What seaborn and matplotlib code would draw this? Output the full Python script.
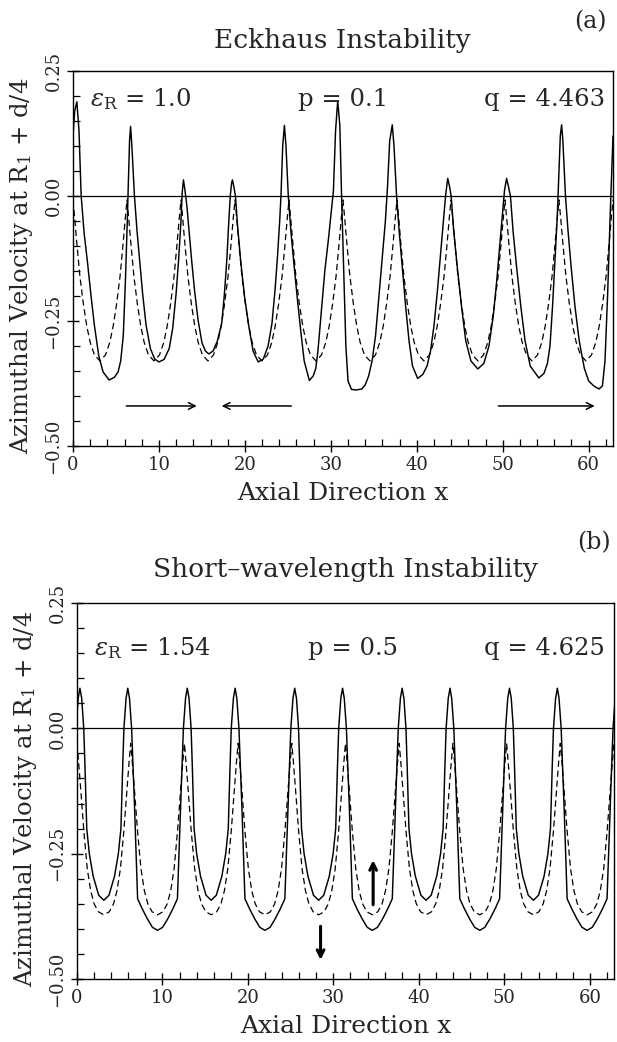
import numpy as np
import pandas as pd
import matplotlib
matplotlib.use("Agg")
import matplotlib.pyplot as plt
import seaborn as sns
from matplotlib.ticker import MultipleLocator, FixedLocator

# ---------------- data ----------------
X_MAX = 62.83

# unperturbed (dashed) solution: one period profile, placed at each peak
dash_peaks = [0.0, 6.283, 12.566, 18.850, 25.133, 31.416, 37.699, 43.982, 50.265, 56.549]
dash_dx = [0.0, 0.2, 0.45, 0.8, 1.2, 1.6, 2.0, 2.5, 3.142, 3.78, 4.28, 4.68, 5.08, 5.48, 5.83, 6.08, 6.283]
dash_a_y = [-0.008, -0.045, -0.095, -0.16, -0.215, -0.26, -0.293, -0.318, -0.330,
            -0.318, -0.293, -0.26, -0.215, -0.16, -0.095, -0.045, -0.008]
dash_b_y = [-0.030, -0.070, -0.125, -0.205, -0.280, -0.324, -0.350, -0.366, -0.372,
            -0.366, -0.350, -0.324, -0.280, -0.205, -0.125, -0.070, -0.030]

# panel (a) perturbed (solid) solution
sa_x = [0.0, 0.2, 0.45, 0.7, 0.95, 1.3, 1.7, 2.1, 2.5, 3.0, 3.5, 4.2, 4.8, 5.25, 5.55, 5.85,
        6.1, 6.3, 6.45, 6.58, 6.70, 6.85, 7.15, 7.45, 7.75, 8.1, 8.5, 9.0, 9.5, 10.0, 10.6,
        11.2, 11.6, 12.0, 12.3, 12.55, 12.7, 12.85, 13.0, 13.25, 13.5, 13.8, 14.15, 14.55,
        15.0, 15.4, 15.8, 16.3, 16.8, 17.3, 17.6, 17.9, 18.1, 18.3, 18.45, 18.55, 18.7, 18.9,
        19.15, 19.5, 19.95, 20.45, 20.95, 21.55, 22.15, 22.7, 23.15, 23.5, 23.8, 24.05, 24.2,
        24.4, 24.6, 24.78, 25.05, 25.35, 25.7, 26.1, 26.5, 26.9, 27.5, 27.95, 28.25, 28.5,
        28.9, 29.3, 29.7, 30.0, 30.3, 30.55, 30.8, 31.05, 31.25, 31.5, 31.75, 32.0, 32.4,
        33.0, 33.6, 34.0, 34.4, 34.8, 35.2, 35.6, 36.0, 36.35, 36.6, 36.85, 37.15, 37.35,
        37.65, 37.95, 38.3, 38.7, 39.1, 39.5, 40.1, 40.7, 41.2, 41.6, 42.0, 42.4, 42.8, 43.1,
        43.35, 43.6, 43.8, 44.0, 44.3, 44.7, 45.2, 45.7, 46.3, 47.1, 47.8, 48.4, 48.9, 49.3,
        49.7, 50.0, 50.2, 50.45, 50.65, 50.9, 51.2, 51.6, 52.1, 52.6, 53.2, 54.2, 54.8, 55.2,
        55.5, 55.8, 56.1, 56.35, 56.55, 56.7, 56.85, 57.0, 57.3, 57.6, 57.95, 58.4, 58.9,
        59.5, 60.0, 60.6, 61.2, 61.6, 61.9, 62.2, 62.5, 62.83]
sa_y = [0.120, 0.170, 0.188, 0.130, 0.0, -0.075, -0.135, -0.2, -0.26, -0.32, -0.352, -0.368,
        -0.363, -0.352, -0.33, -0.28, -0.17, -0.06, 0.03, 0.11, 0.139, 0.10, 0.0, -0.07,
        -0.128, -0.195, -0.258, -0.305, -0.326, -0.332, -0.327, -0.305, -0.265, -0.195,
        -0.125, -0.055, 0.005, 0.032, 0.015, -0.02, -0.07, -0.128, -0.19, -0.248, -0.293,
        -0.31, -0.316, -0.31, -0.29, -0.255, -0.2, -0.128, -0.06, 0.0, 0.025, 0.032, 0.02,
        0.0, -0.06, -0.128, -0.2, -0.26, -0.31, -0.332, -0.326, -0.3, -0.255, -0.19, -0.12,
        -0.05, 0.0, 0.1, 0.141, 0.1, 0.0, -0.07, -0.135, -0.205, -0.27, -0.33, -0.369, -0.36,
        -0.345, -0.31, -0.23, -0.15, -0.09, -0.04, 0.01, 0.13, 0.19, 0.14, 0.0, -0.15, -0.3,
        -0.37, -0.387, -0.388, -0.386, -0.378, -0.36, -0.33, -0.28, -0.2, -0.12, -0.05, 0.02,
        0.11, 0.142, 0.1, 0.0, -0.07, -0.14, -0.22, -0.29, -0.34, -0.365, -0.357, -0.34,
        -0.31, -0.26, -0.19, -0.11, -0.05, 0.0, 0.035, 0.02, 0.0, -0.07, -0.14, -0.22, -0.29,
        -0.33, -0.346, -0.335, -0.3, -0.24, -0.17, -0.09, -0.03, 0.01, 0.035, 0.02, 0.0,
        -0.07, -0.14, -0.22, -0.29, -0.34, -0.364, -0.355, -0.335, -0.3, -0.22, -0.12, -0.04,
        0.05, 0.12, 0.142, 0.11, 0.0, -0.07, -0.14, -0.22, -0.29, -0.345, -0.37, -0.38,
        -0.386, -0.38, -0.33, -0.2, -0.04, 0.12]

# panel (b) perturbed (solid) solution: one 4*pi period profile (from a wide-trough centre)
sb_starts = [-3.14, 9.42, 21.99, 34.56, 47.12, 59.69]
sb_dx = [0.0, 0.6, 1.2, 1.8, 2.33, 2.53, 2.68, 2.88, 3.03, 3.28, 3.483, 3.69, 3.93, 4.08,
         4.28, 4.58, 5.03, 5.68, 6.283, 6.88, 7.53, 7.98, 8.28, 8.48, 8.63, 8.88, 9.083,
         9.28, 9.53, 9.68, 9.88, 10.03, 10.23, 10.77, 11.37, 11.97, 12.566]
sb_y = [-0.403, -0.397, -0.38, -0.36, -0.34, -0.24, -0.16, -0.07, 0.0, 0.06, 0.08, 0.06,
        0.0, -0.08, -0.2, -0.25, -0.295, -0.333, -0.343, -0.333, -0.295, -0.25, -0.2,
        -0.08, 0.0, 0.06, 0.08, 0.06, 0.0, -0.07, -0.16, -0.24, -0.34, -0.36, -0.38,
        -0.397, -0.403]

# arrows: (x_tail, y_tail, x_head, y_head)
arrows_a = [(6.2, -0.42, 14.4, -0.42), (25.4, -0.42, 17.3, -0.42), (49.5, -0.42, 60.7, -0.42)]
arrows_b = [(28.5, -0.395, 28.5, -0.462), (34.65, -0.352, 34.65, -0.263)]

y_ticks = [-0.50, -0.25, 0.00, 0.25]
y_ticklabels = ["\u22120.50", "\u22120.25", "0.00", "0.25"]
x_ticks = [0, 10, 20, 30, 40, 50, 60]

titles = ["Eckhaus Instability", "Short\u2013wavelength Instability"]
panel_tags = ["(a)", "(b)"]
params_a = [r"$\varepsilon_{\mathrm{R}}$ = 1.0", "p = 0.1", "q = 4.463"]
params_b = [r"$\varepsilon_{\mathrm{R}}$ = 1.54", "p = 0.5", "q = 4.625"]


def tile(starts, dx, dy):
    xs, ys = [], []
    for i, s in enumerate(starts):
        k0 = 0 if i == 0 else 1
        xs.extend([s + d for d in dx[k0:]])
        ys.extend(dy[k0:])
    return pd.DataFrame({"x": xs, "y": ys})


dash_a = tile(dash_peaks, dash_dx, dash_a_y)
dash_b = tile(dash_peaks, dash_dx, dash_b_y)
solid_a = pd.DataFrame({"x": sa_x, "y": sa_y})
solid_b = tile(sb_starts, sb_dx, sb_y)

# ---------------- figure ----------------
sns.set_theme(style="white")
plt.rcParams["font.family"] = ["DejaVu Serif"]
plt.rcParams["mathtext.fontset"] = "dejavuserif"

fig = plt.figure(figsize=(6.17, 10.42), dpi=100)
ax_a = fig.add_axes([0.1183, 0.572, 0.8752, 0.360])
ax_b = fig.add_axes([0.1248, 0.0605, 0.8703, 0.3608])


def style_axes(ax):
    ax.set_xlim(0, X_MAX)
    ax.set_ylim(-0.5, 0.25)
    ax.axhline(0, color="black", lw=0.9, zorder=1)
    for sp in ax.spines.values():
        sp.set_color("black")
        sp.set_linewidth(1.0)
    ax.xaxis.set_major_locator(FixedLocator(x_ticks))
    ax.xaxis.set_minor_locator(MultipleLocator(2))
    ax.yaxis.set_major_locator(FixedLocator(y_ticks))
    ax.yaxis.set_minor_locator(MultipleLocator(0.05))
    ax.set_yticklabels(y_ticklabels, rotation=90, va="center")
    ax.tick_params(which="major", direction="inout", length=9, width=1.0, color="black",
                   labelsize=13, bottom=True, left=True, top=False, right=False, pad=3)
    ax.tick_params(which="minor", direction="in", length=5, width=0.9, color="black",
                   bottom=True, left=True, top=False, right=False)
    ax.set_xlabel("Axial Direction x", fontsize=18)
    ax.set_ylabel("Azimuthal Velocity at R$_{\\mathrm{1}}$ + d/4", fontsize=17.5)
    ax.xaxis.set_label_coords(0.5, -0.095)
    ax.yaxis.set_label_coords(-0.07, 0.48)


for ax, dash, solid, arrows, arrow_lw in [
    (ax_a, dash_a, solid_a, arrows_a, 1.1),
    (ax_b, dash_b, solid_b, arrows_b, 2.2),
]:
    sns.lineplot(data=dash, x="x", y="y", sort=False, estimator=None, color="black",
                 lw=0.9, ax=ax)
    ax.lines[-1].set_dashes([5, 3])
    sns.lineplot(data=solid, x="x", y="y", sort=False, estimator=None, color="black",
                 lw=1.05, ax=ax)
    style_axes(ax)
    for (xt, yt, xh, yh) in arrows:
        ax.annotate("", xy=(xh, yh), xytext=(xt, yt),
                    arrowprops=dict(arrowstyle="->", lw=arrow_lw, color="black",
                                    shrinkA=0, shrinkB=0, mutation_scale=12))

PFS = 17.5
ax_a.text(0.031, 0.905, params_a[0], transform=ax_a.transAxes, fontsize=PFS, ha="left", va="baseline")
ax_a.text(0.50, 0.905, params_a[1], transform=ax_a.transAxes, fontsize=PFS, ha="center", va="baseline")
ax_a.text(0.985, 0.905, params_a[2], transform=ax_a.transAxes, fontsize=PFS, ha="right", va="baseline")
ax_b.text(0.031, 0.862, params_b[0], transform=ax_b.transAxes, fontsize=PFS, ha="left", va="baseline")
ax_b.text(0.514, 0.862, params_b[1], transform=ax_b.transAxes, fontsize=PFS, ha="center", va="baseline")
ax_b.text(0.983, 0.862, params_b[2], transform=ax_b.transAxes, fontsize=PFS, ha="right", va="baseline")

fig.text(0.555, 1 - 48 / 1042, titles[0], fontsize=19, ha="center", va="baseline")
fig.text(0.957, 1 - 22 / 1042, panel_tags[0], fontsize=17, ha="center", va="center")
fig.text(0.56, 1 - 577 / 1042, titles[1], fontsize=19, ha="center", va="baseline")
fig.text(0.963, 1 - 543 / 1042, panel_tags[1], fontsize=17, ha="center", va="center")

fig.savefig("out.png", dpi=100, facecolor="white")
